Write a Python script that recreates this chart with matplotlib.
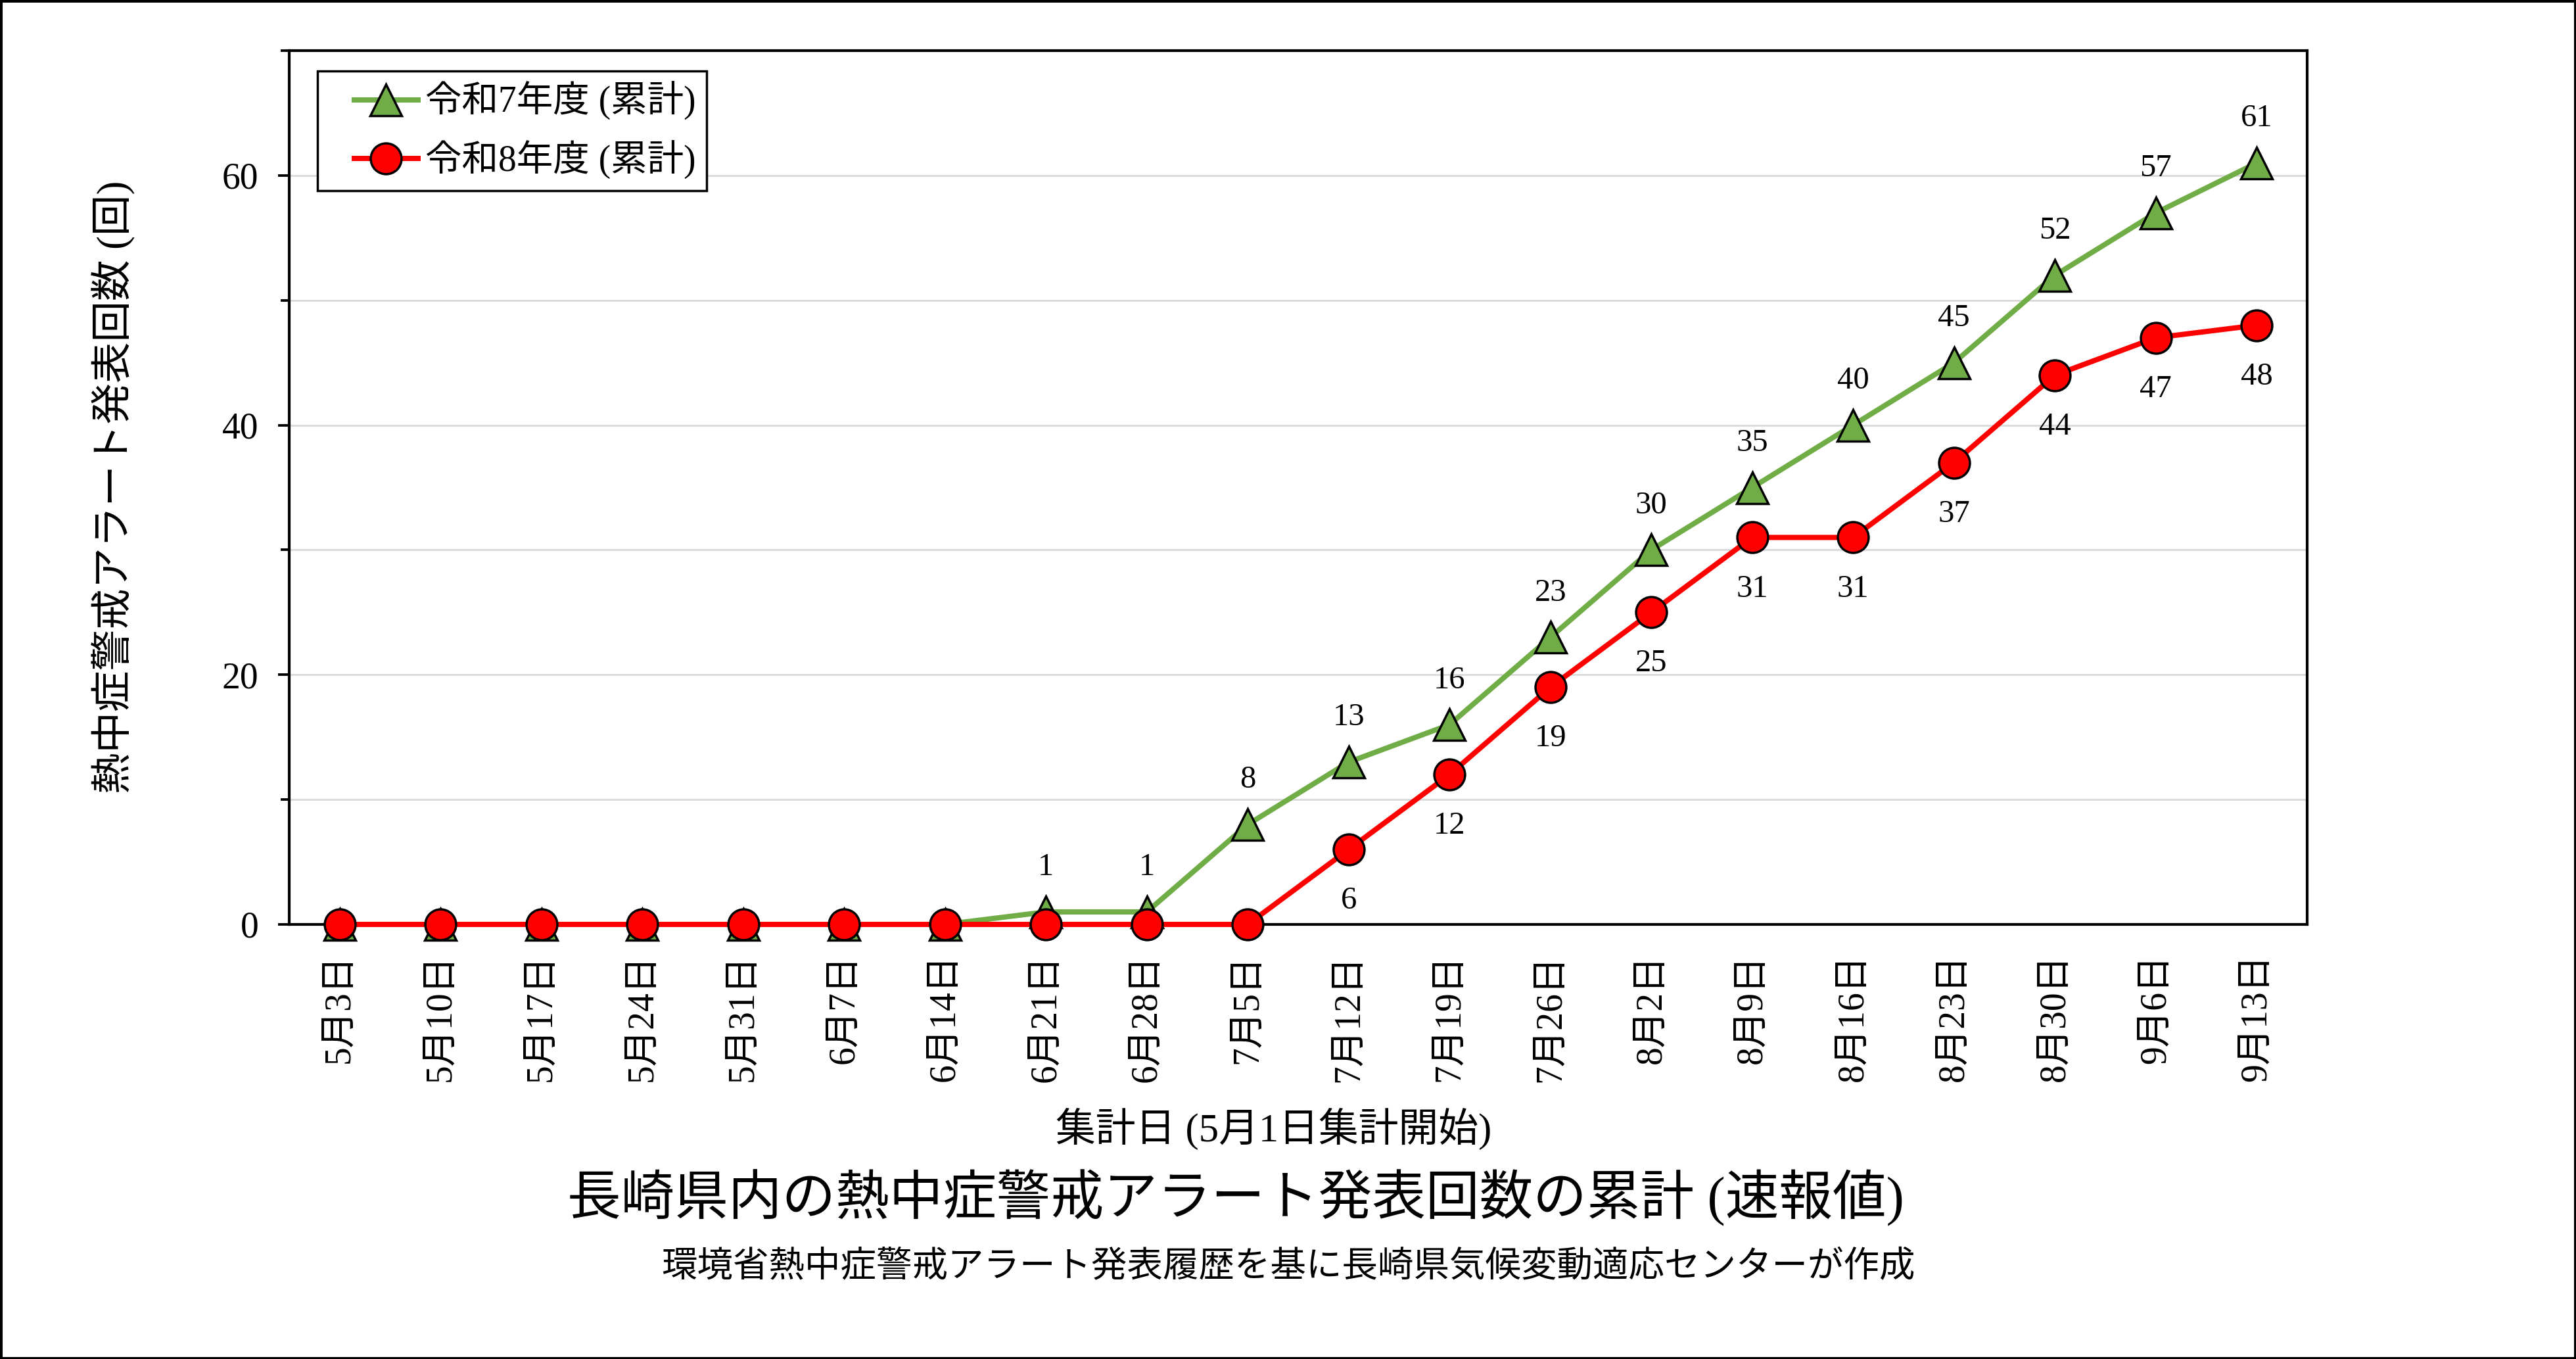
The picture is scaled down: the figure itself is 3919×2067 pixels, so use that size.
import matplotlib
matplotlib.use("Agg")
import matplotlib.pyplot as plt
from matplotlib.ticker import MultipleLocator
from matplotlib.lines import Line2D
from matplotlib.legend_handler import HandlerLine2D

# data
dates = ['5月3日', '5月10日', '5月17日', '5月24日', '5月31日', '6月7日', '6月14日',
         '6月21日', '6月28日', '7月5日', '7月12日', '7月19日', '7月26日', '8月2日',
         '8月9日', '8月16日', '8月23日', '8月30日', '9月6日', '9月13日']
r7 = [0, 0, 0, 0, 0, 0, 0, 1, 1, 8, 13, 16, 23, 30, 35, 40, 45, 52, 57, 61]
r8 = [0, 0, 0, 0, 0, 0, 0, 0, 0, 0, 6, 12, 19, 25, 31, 31, 37, 44, 47, 48]
name7 = '令和7年度 (累計)'
name8 = '令和8年度 (累計)'

serif = ['Liberation Serif', 'Noto Sans CJK JP']
gothic = ['Noto Sans CJK JP', 'DejaVu Sans']
plt.rcParams['font.family'] = serif

fig = plt.figure(figsize=(3919 / 250, 2067 / 250), dpi=250)
fig.patch.set_edgecolor('black')
fig.patch.set_linewidth(2)
ax = fig.add_axes([440 / 3919, 1 - 1406 / 2067, 3070 / 3919, 1329 / 2067])

x = list(range(len(dates)))
ax.plot(x, r7, color='#70AD47', lw=2.3, marker='^', ms=13.8, mfc='#70AD47',
        mec='black', mew=1.0, label=name7, clip_on=False, zorder=3)
ax.plot(x, r8, color='#FF0000', lw=2.3, marker='o', ms=13.5, mfc='#FF0000',
        mec='black', mew=1.0, label=name8, clip_on=False, zorder=4)

for i, v in enumerate(r7):
    if v > 0:
        ax.annotate(str(v), (i, v), xytext=(0, 19.5), textcoords='offset points',
                    ha='center', va='center', fontsize=14)
for i, v in enumerate(r8):
    if v > 0:
        ax.annotate(str(v), (i, v), xytext=(0, -22.5), textcoords='offset points',
                    ha='center', va='center', fontsize=14)

ax.set_xlim(-0.5, 19.5)
ax.set_ylim(0, 70)
ax.yaxis.set_major_locator(MultipleLocator(20))
ax.yaxis.set_minor_locator(MultipleLocator(10))
ax.grid(which='both', axis='y', color='#d9d9d9', lw=0.8)
ax.set_axisbelow(True)

ax.set_xticks(x)
ax.set_xticklabels(dates, rotation=90, fontsize=16)
ax.tick_params(axis='x', length=0, pad=13)
ax.tick_params(axis='y', which='major', length=5, width=1.1, pad=8.5, labelsize=16)
ax.tick_params(axis='y', which='minor', length=3.7, width=1.1)
for s in ax.spines.values():
    s.set_linewidth(1.2)

# legend: extra left padding for the handle via xpad
leg = ax.legend(loc='upper left', bbox_to_anchor=(0.014, 0.977), borderaxespad=0,
                fontsize=16, fancybox=False, framealpha=1, edgecolor='black',
                handlelength=2.45, handletextpad=0.2, borderpad=0.3,
                labelspacing=0.55,
                handler_map={Line2D: HandlerLine2D(xpad=0.7)})
leg.get_frame().set_linewidth(1.0)

fig.text(173 / 3919, 1 - 741 / 2067, '熱中症警戒アラート発表回数 (回)', rotation=90,
         ha='center', va='center', fontsize=18)
fig.text(1938 / 3919, 1 - 1717 / 2067, '集計日 (5月1日集計開始)',
         ha='center', va='center', fontsize=17.5)
fig.text(1880 / 3919, 1 - 1822 / 2067, '長崎県内の熱中症警戒アラート発表回数の累計 (速報値)',
         ha='center', va='center', fontsize=23.5)
fig.text(1960 / 3919, 1 - 1927 / 2067,
         '環境省熱中症警戒アラート発表履歴を基に長崎県気候変動適応センターが作成',
         ha='center', va='center', fontsize=15.7, family=gothic)

fig.savefig('out.png', dpi=250, edgecolor=fig.get_edgecolor())
